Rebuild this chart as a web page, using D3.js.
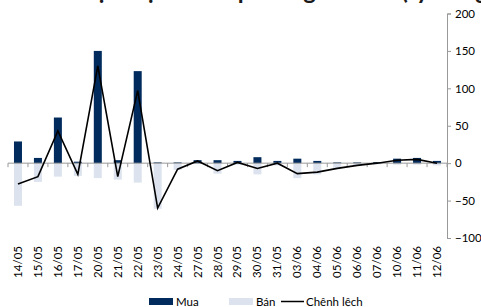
<!DOCTYPE html>
<html>
<head>
<meta charset="utf-8">
<title>Mua - Ban - Chenh lech</title>
<script src="https://cdn.jsdelivr.net/npm/d3@7"></script>
<style>
  body { margin: 0; background: #fff; }
  text { font-family: Lato, "Liberation Sans", sans-serif; fill: #000; }
</style>
</head>
<body>
<script>
// ngay giao dich
var dates = ["14/05","15/05","16/05","17/05","20/05","21/05","22/05","23/05","24/05","27/05","28/05",
             "29/05","30/05","31/05","03/06","04/06","05/06","06/06","07/06","10/06","11/06","12/06"];
// gia tri mua / ban / chenh lech (ty dong)
var mua = [29, 7, 61, 2, 150, 4, 123, 1, 1, 4, 4, 3, 8, 3, 6, 3, 1, 1, 1.5, 6, 7, 3];
var ban = [-57, -25, -18, -17, -20, -22, -26, -61, -9, -1, -14, -2, -15, -3, -20, -15, -8, -4, -1.5, -2, -2, -3];
var net = [-28, -18, 43, -15, 130, -18, 97, -60, -8, 3, -10, 1, -7, 0, -14, -12, -7, -3, 0, 4, 5, 0];
var yTicks = [-100, -50, 0, 50, 100, 150, 200];

var w = 481, h = 307;
var plotL = 8, plotR = 447, plotT = 13.5, plotB = 238;

var svg = d3.select("body").append("svg")
    .attr("width", w)
    .attr("height", h);

// title, mostly cut off at the top
svg.append("text")
    .attr("x", 262)
    .attr("y", -1)
    .attr("text-anchor", "middle")
    .style("font-size", "24px")
    .style("font-weight", "bold")
    .style("fill", "#1a1a1a")
    .text("Giao dịch tự doanh phiên gần nhất (tỷ đồng)");

var x = d3.scaleBand().domain(dates).range([plotL, plotR]);
var y = d3.scaleLinear().domain([-100, 200]).range([plotB, plotT]);
var bw = 8;

// ban bars
svg.selectAll("rect.ban").data(dates).enter().append("rect")
    .attr("class", "ban")
    .attr("x", function(d) { return x(d) + x.bandwidth() / 2 - bw / 2; })
    .attr("y", y(0))
    .attr("width", bw)
    .attr("height", function(d, i) { return y(ban[i]) - y(0); })
    .attr("fill", "#dce3ee");

// mua bars
svg.selectAll("rect.mua").data(dates).enter().append("rect")
    .attr("class", "mua")
    .attr("x", function(d) { return x(d) + x.bandwidth() / 2 - bw / 2; })
    .attr("y", function(d, i) { return y(mua[i]); })
    .attr("width", bw)
    .attr("height", function(d, i) { return y(0) - y(mua[i]); })
    .attr("fill", "#002b5c");

// zero axis with ticks between categories
svg.append("line")
    .attr("x1", plotL).attr("x2", plotR)
    .attr("y1", y(0)).attr("y2", y(0))
    .attr("stroke", "#999").attr("stroke-width", 1);
svg.selectAll("line.xt").data(d3.range(dates.length + 1)).enter().append("line")
    .attr("class", "xt")
    .attr("x1", function(i) { return plotL + i * x.step(); })
    .attr("x2", function(i) { return plotL + i * x.step(); })
    .attr("y1", y(0)).attr("y2", y(0) + 4)
    .attr("stroke", "#999");

// net line
var line = d3.line()
    .x(function(d, i) { return x(dates[i]) + x.bandwidth() / 2; })
    .y(function(d) { return y(d); });
svg.append("path")
    .datum(net)
    .attr("d", line)
    .attr("fill", "none")
    .attr("stroke", "#000")
    .attr("stroke-width", 1.6);

// right axis
var yAxis = d3.axisRight(y).tickValues(yTicks).tickSize(4).tickPadding(4);
var ga = svg.append("g")
    .attr("transform", "translate(" + plotR + ",0)")
    .call(yAxis);
ga.selectAll("path, line").attr("stroke", "#999");
ga.selectAll("text").style("font-size", "11.5px").style("fill", "#000").style("font-family", "Lato, sans-serif");

// x labels at bottom, rotated
svg.selectAll("text.xl").data(dates).enter().append("text")
    .attr("class", "xl")
    .attr("transform", function(d) {
        return "translate(" + (x(d) + x.bandwidth() / 2 + 4) + ",246) rotate(-90)";
    })
    .attr("text-anchor", "end")
    .style("font-size", "11.5px")
    .text(function(d) { return d; });

// legend
var lg = svg.append("g").attr("transform", "translate(0,302)");
lg.append("rect").attr("x", 149).attr("y", -4).attr("width", 24).attr("height", 7).attr("fill", "#002b5c");
lg.append("text").attr("x", 176).attr("y", 4).style("font-size", "11.5px").text("Mua");
lg.append("rect").attr("x", 229).attr("y", -4).attr("width", 24).attr("height", 7).attr("fill", "#dce3ee");
lg.append("text").attr("x", 256).attr("y", 4).style("font-size", "11.5px").text("Bán");
lg.append("line").attr("x1", 281).attr("x2", 304).attr("y1", -0.5).attr("y2", -0.5).attr("stroke", "#000").attr("stroke-width", 1.5);
lg.append("text").attr("x", 306).attr("y", 4).style("font-size", "11.5px").text("Chênh lệch");
</script>
</body>
</html>
